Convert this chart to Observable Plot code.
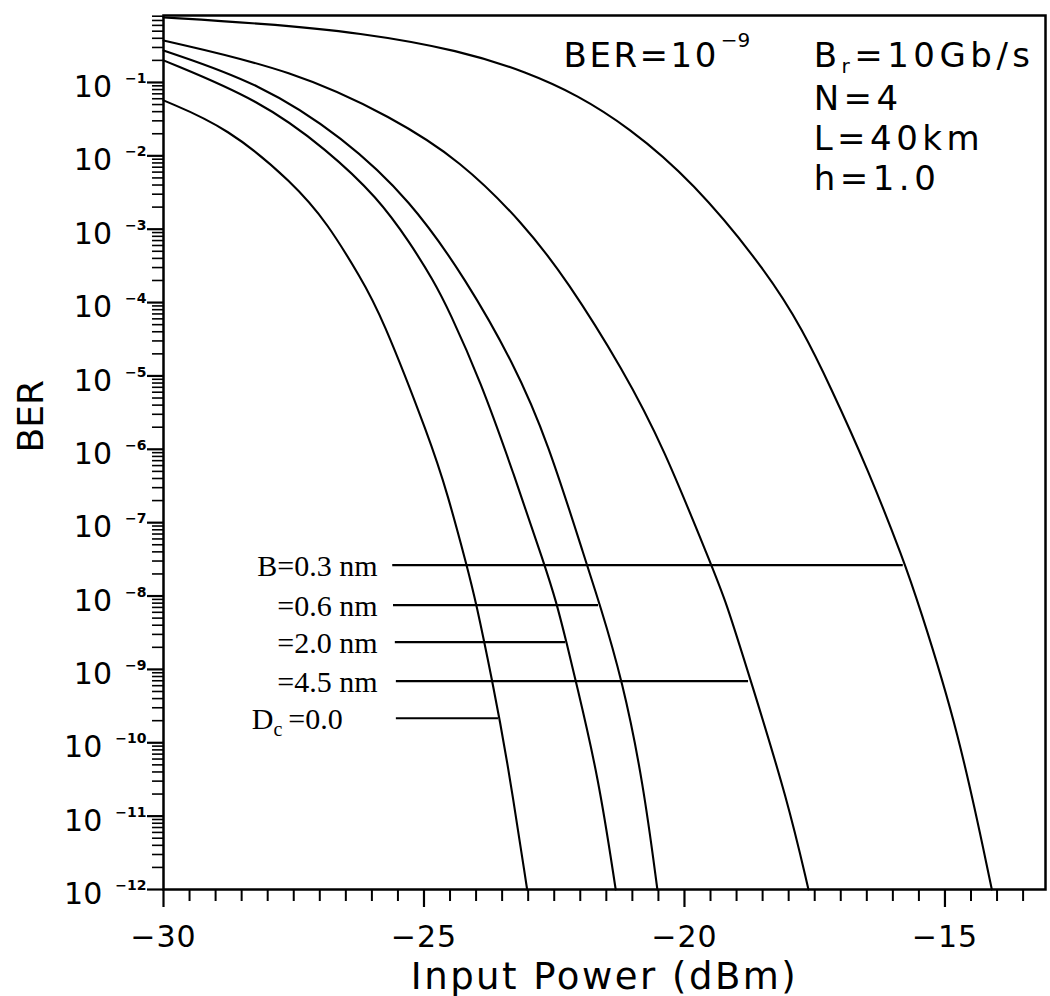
<!DOCTYPE html>
<html>
<head>
<meta charset="utf-8">
<script src="https://cdn.jsdelivr.net/npm/d3@7"></script>
<script src="https://cdn.jsdelivr.net/npm/@observablehq/plot@0.6"></script>
<style>
  html, body { margin: 0; padding: 0; background: #fff; }
  #chart svg { display: block; }
</style>
</head>
<body>
<div id="chart"></div>
<script>
// ---------- data ----------
// Input power (dBm) and BER for each curve
const pwr_dc0 = [-30, -28.77, -27.50, -26.85, -26.22, -25.83, -24.88, -24.55, -24.17, -24.01, -23.69, -23.40, -23.02];
const ber_dc0 = [5.7e-2, 2.44e-2, 4.2e-3, 1.2e-3, 2.2e-4, 7.1e-5, 1.33e-6, 2.5e-7, 2.47e-8, 8.8e-9, 7.1e-10, 5.8e-11, 1e-12];

const pwr_b20 = [-30, -28.14, -26.85, -25.89, -25.26, -24.82, -24.52, -23.92, -23.28, -22.67, -22.47, -22.265, -22.09, -21.65, -21.32];
const ber_b20 = [0.20, 5.7e-2, 1.19e-2, 2.7e-3, 6.4e-4, 2.0e-4, 7.8e-5, 8.7e-6, 4.7e-7, 2.47e-8, 8.8e-9, 2.35e-9, 7.1e-10, 3.4e-11, 1e-12];

const pwr_b06 = [-30, -28.14, -26.55, -25.26, -24.18, -23.28, -22.63, -21.86, -21.65, -21.19, -20.79, -20.52];
const ber_b06 = [0.273, 9.7e-2, 1.78e-2, 2.5e-3, 2.0e-4, 1.49e-5, 1.33e-6, 2.47e-8, 8.8e-9, 7.1e-10, 2.8e-11, 1e-12];

const pwr_b45 = [-30, -27.50, -25.59, -24.30, -23.09, -22.25, -21.17, -20.40, -19.50, -19.21, -18.73, -18.02, -17.62];
const ber_b45 = [0.373, 0.146, 3.3e-2, 8.6e-3, 1.2e-3, 2.0e-4, 1.19e-5, 1.06e-6, 2.8e-8, 8.8e-9, 7.1e-10, 1.65e-11, 1e-12];

const pwr_b03 = [-30, -28.14, -26.22, -24.30, -23.01, -22.05, -21.09, -19.85, -18.41, -17.72, -17.22, -16.47, -15.78, -15.53, -14.74, -14.10];
const ber_b03 = [0.77, 0.64, 0.48, 0.273, 0.137, 6.7e-2, 2.5e-2, 4.6e-3, 2.6e-4, 4.1e-5, 7.7e-6, 5.2e-7, 2.9e-8, 8.8e-9, 1.49e-10, 1e-12];

const curveNames = ["Dc=0.0", "B=2.0 nm", "B=0.6 nm", "B=4.5 nm", "B=0.3 nm"];

// legend leader lines: label, BER level, start and end power (dBm)
const legendLabels = ["B=0.3 nm", "=0.6 nm", "=2.0 nm", "=4.5 nm", "D_c =0.0"];
const legendLevel  = [2.63e-8, 7.5e-9, 2.35e-9, 6.9e-10, 2.16e-10];
const legendFrom   = [-25.60, -25.585, -25.55, -25.53, -25.53];
const legendTo     = [-15.80, -21.65, -22.28, -18.77, -23.57];
const legendTextAt = [-25.89, -25.89, -25.89, -25.89, -26.56];

// annotation block (top right)
const noteTexts = ["BER=10^−9", "B_r=10Gb/s", "N=4", "L=40km", "h=1.0"];
const notePower = [-22.32, -17.52, -17.52, -17.52, -17.52];
const noteBer   = [0.160, 0.160, 0.0416, 0.01186, 3.38e-3];

// ticks
const xTickMajor = [-30, -25, -20, -15];
const xTickMinor = d3.range(-29.5, -13.4, 0.5).filter(v => !xTickMajor.includes(v));
const yExponents = [-1, -2, -3, -4, -5, -6, -7, -8, -9, -10, -11, -12];
const xDomain = [-30, -13.07];
const yDomain = [1e-12, 0.818];

// ---------- build tables ----------
const curveSeries = [
  [pwr_dc0, ber_dc0], [pwr_b20, ber_b20], [pwr_b06, ber_b06], [pwr_b45, ber_b45], [pwr_b03, ber_b03]
];
const rows = [];
curveSeries.forEach(([p, b], k) => p.forEach((v, i) => rows.push({name: curveNames[k], p: v, ber: b[i]})));

const legend = legendLabels.map((label, i) => ({
  label, level: legendLevel[i], from: legendFrom[i], to: legendTo[i], at: legendTextAt[i]
}));
const notes = noteTexts.map((t, i) => ({t, p: notePower[i], ber: noteBer[i]}));

const yMajor = yExponents.map(e => Math.pow(10, e));
const yMinor = [];
for (const e of yExponents) for (let k = 2; k <= 9; k++) {
  const v = k * Math.pow(10, e);
  if (v <= yDomain[1]) yMinor.push(v);
}

const SANS = "DejaVu Sans, Liberation Sans, sans-serif";
const SERIF = "Liberation Serif, Times New Roman, serif";

const chart = Plot.plot({
  width: 1050,
  height: 996,
  marginLeft: 163,
  marginRight: 5,
  marginTop: 15,
  marginBottom: 107,
  style: {background: "#fff", color: "#000", fontFamily: SANS},
  x: {domain: xDomain},
  y: {type: "log", domain: yDomain},
  marks: [
    Plot.line(rows, {x: "p", y: "ber", z: "name", stroke: "#000", strokeWidth: 2.1, curve: "basis"}),
    Plot.ruleY(legend, {y: "level", x1: "from", x2: "to", stroke: "#000", strokeWidth: 2.2}),
    Plot.text(legend, {x: "at", y: "level", text: "label", textAnchor: "end", fontFamily: SERIF, fontSize: 30, dy: 1}),
    Plot.axisX(xTickMinor, {tickSize: 12, fill: "none", strokeWidth: 2, label: null}),
    Plot.axisX(xTickMajor, {tickSize: 18, tickPadding: 18, fontSize: 30, fontFamily: SANS, strokeWidth: 2.2, label: null}),
    Plot.axisY(yMinor, {tickSize: 11, fill: "none", strokeWidth: 1.6, label: null}),
    Plot.axisY(yMajor, {tickSize: 16, fill: "none", strokeWidth: 2.2, label: null}),
    Plot.text(yExponents, {y: e => Math.pow(10, e), frameAnchor: "left", text: e => "10^−" + Math.abs(e),
      textAnchor: "end", dx: -17, dy: 5, fontSize: 30, fontFamily: SANS}),
    Plot.text(["BER"], {frameAnchor: "left", rotate: -90, dx: -121, fontSize: 36, fontFamily: SANS, lineAnchor: "bottom"}),
    Plot.text(["Input Power (dBm)"], {frameAnchor: "bottom", dy: 99, lineAnchor: "bottom", fontSize: 37, fontFamily: SANS}),
    Plot.text(notes, {x: "p", y: "ber", text: "t", textAnchor: "start", lineAnchor: "bottom", fontSize: 34, fontFamily: SANS}),
    Plot.frame({stroke: "#000", strokeWidth: 2.5})
  ]
});

// ---------- rich text (super/subscripts) ----------
function rich(el, parts) {
  const sel = d3.select(el);
  sel.text(null);
  let shift = 0;
  for (const p of parts) {
    const ts = sel.append("tspan").text(p.t);
    const target = p.dy || 0;
    const d = target - shift;
    if (d) ts.attr("dy", d);
    shift = target;
    if (p.dx) ts.attr("dx", p.dx);
    if (p.size) ts.attr("font-size", p.size);
    if (p.weight) ts.attr("font-weight", p.weight);
    if (p.ls != null) ts.attr("letter-spacing", p.ls);
  }
}

d3.select(chart).selectAll("text").each(function () {
  const t = this.textContent;
  const s = d3.select(this);
  let m;
  if ((m = /^10\^(.+)$/.exec(t))) {
    rich(this, [{t: "10"}, {t: m[1], dy: -14, dx: 13, size: 14, weight: "bold", ls: 0}]);
  } else if (t === "BER=10^−9") {
    s.attr("letter-spacing", 2.5);
    rich(this, [{t: "BER=10"}, {t: "−9", dy: -20, dx: 2, size: 20, ls: 0}]);
  } else if (t === "B_r=10Gb/s") {
    s.attr("letter-spacing", 4.5);
    rich(this, [{t: "B"}, {t: "r", dy: 6, size: 20}, {t: "=10Gb/s", dy: 0}]);
  } else if (t === "N=4" || t === "L=40km" || t === "h=1.0") {
    s.attr("letter-spacing", 4.5);
  } else if (t === "D_c =0.0") {
    rich(this, [{t: "D"}, {t: "c", dy: 7, size: 20}, {t: "=0.0", dy: 0, dx: 6}]);
  } else if (t === "Input Power (dBm)") {
    s.attr("letter-spacing", 2.5);
  } else if (/^−\d+$/.test(t)) {
    s.attr("letter-spacing", 1);
  }
});

document.getElementById("chart").append(chart);
</script>
</body>
</html>
